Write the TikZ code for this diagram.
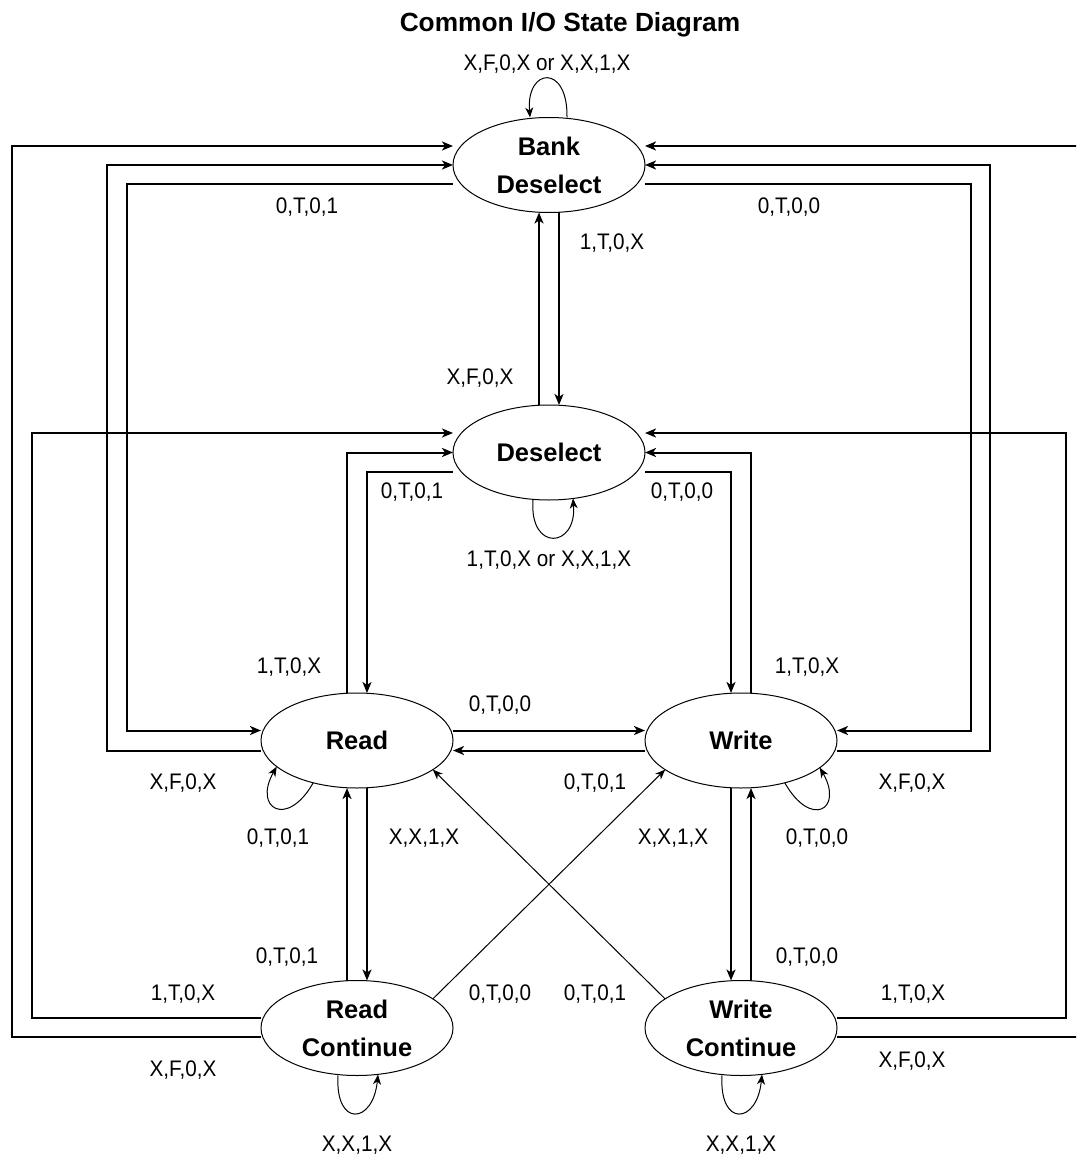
\documentclass[tikz,border=0pt]{standalone}
\usepackage{fontspec}
\setmainfont{Liberation Sans}
\newfontfamily\lblfont{Liberation Sans}[FakeStretch=0.92]
\usetikzlibrary{shapes.geometric,arrows.meta,calc}
\tikzset{
 st/.style={ellipse, draw, line width=1pt, minimum width=192pt, minimum height=95pt, inner sep=0pt, outer sep=0pt, align=center, font=\fontsize{25.5}{38}\selectfont\bfseries},
 lbl/.style={inner sep=0pt, text height=16pt, text depth=0pt, font=\lblfont\fontsize{22.5}{26}\selectfont},
 conn/.style={line width=2pt, -{Stealth[length=11pt,width=9pt,inset=3pt]}},
 thinarr/.style={line width=1pt, -{Stealth[length=10pt,width=8pt,inset=3pt]}},
}
\begin{document}
\begin{tikzpicture}[x=1pt,y=-1pt]
\fill[white] (0,0) rectangle (1076,1158);
\useasboundingbox (0,0) rectangle (1076,1158);
\clip (0,0) rectangle (1076,1158);

\node[inner sep=0pt, text height=18pt, text depth=0pt, font=\fontsize{26.3}{30}\selectfont\bfseries] (title) at (570,23) {Common I/O State Diagram};

\node[st] (bank) at (549,165) {Bank\\Deselect};
\node[st] (desel) at (549,452.5) {Deselect};
\node[st] (read) at (357,740.5) {Read};
\node[st] (write) at (741,740.5) {Write};
\node[st] (rc) at (357,1028) {Read\\Continue};
\node[st] (wc) at (741,1028) {Write\\Continue};

% left side long connectors
\draw[conn] ($(rc.west)+(0,9)$) -| (12,146) |- ($(bank.west)+(0,-19)$);
\draw[conn] ($(rc.west)+(0,-10)$) -| (32,433) |- ($(desel.west)+(0,-19.5)$);
\draw[conn] ($(read.west)+(0,10)$) -| (107,165) |- (bank.west);
\draw[conn] ($(bank.west)+(0,19)$) -| (127,730.5) |- ($(read.west)+(0,-10)$);
\draw[conn] ($(read.north)+(-10,0)$) |- (desel.west);
\draw[conn] ($(desel.west)+(0,19.5)$) -| ($(read.north)+(10,0)$);
% right side long connectors
\draw[conn] ($(wc.east)+(0,9)$) -| (1086,146) |- ($(bank.east)+(0,-19)$);
\draw[conn] ($(wc.east)+(0,-10)$) -| (1066,433) |- ($(desel.east)+(0,-19.5)$);
\draw[conn] ($(write.east)+(0,10)$) -| (990,165) |- (bank.east);
\draw[conn] ($(bank.east)+(0,19)$) -| (971,730.5) |- ($(write.east)+(0,-10)$);
\draw[conn] ($(write.north)+(10,0)$) |- (desel.east);
\draw[conn] ($(desel.east)+(0,19.5)$) -| ($(write.north)+(-10,0)$);
% straight pairs
\draw[conn] ($(desel.north)+(-10,0)$) -- ($(bank.south)+(-10,0)$);
\draw[conn] ($(bank.south)+(10,0)$) -- ($(desel.north)+(10,0)$);
\draw[conn] ($(read.east)+(0,-10)$) -- ($(write.west)+(0,-10)$);
\draw[conn] ($(write.west)+(0,10)$) -- ($(read.east)+(0,10)$);
\draw[conn] ($(read.south)+(10,0)$) -- ($(rc.north)+(10,0)$);
\draw[conn] ($(rc.north)+(-10,0)$) -- ($(read.south)+(-10,0)$);
\draw[conn] ($(write.south)+(-10,0)$) -- ($(wc.north)+(-10,0)$);
\draw[conn] ($(wc.north)+(10,0)$) -- ($(write.south)+(10,0)$);
% diagonals
\draw[thinarr] (rc.21) -- (write.201);
\draw[thinarr] (wc.159) -- (read.339);
% self loops
\draw[thinarr] ($(bank.north)+(18,0)$) .. controls +(1,-54) and +(-4,-50) .. ($(bank.north)+(-19,0)$);
\draw[thinarr] ($(desel.south)+(-16,0)$) .. controls +(-4,52) and +(4,50) .. ($(desel.south)+(24,-1.5)$);
\draw[thinarr] (read.224) .. controls +(-26,46) and +(-24,42) .. (read.198.5);
\draw[thinarr] (write.316) .. controls +(26,46) and +(24,42) .. (write.341.5);
\draw[thinarr] ($(rc.south)+(-19,0)$) .. controls +(-3,52) and +(-5,50) .. ($(rc.south)+(21,-1)$);
\draw[thinarr] ($(wc.south)+(-19,0)$) .. controls +(-3,52) and +(-5,50) .. ($(wc.south)+(21,-1)$);

% labels
\node[lbl] (l1) at (547,63) {X,F,0,X or X,X,1,X};
\node[lbl] (l2) at (307,206) {0,T,0,1};
\node[lbl] (l3) at (789,206) {0,T,0,0};
\node[lbl] (l4) at (612,241) {1,T,0,X};
\node[lbl] (l5) at (480,376) {X,F,0,X};
\node[lbl] (l6) at (412,490) {0,T,0,1};
\node[lbl] (l7) at (682,490) {0,T,0,0};
\node[lbl] (l8) at (549,558) {1,T,0,X or X,X,1,X};
\node[lbl] (l9) at (289,665) {1,T,0,X};
\node[lbl] (l10) at (807,665) {1,T,0,X};
\node[lbl] (l11) at (500,703) {0,T,0,0};
\node[lbl] (l12) at (183,781) {X,F,0,X};
\node[lbl] (l13) at (595,781) {0,T,0,1};
\node[lbl] (l14) at (912,781) {X,F,0,X};
\node[lbl] (l15) at (278,836) {0,T,0,1};
\node[lbl] (l16) at (424,836) {X,X,1,X};
\node[lbl] (l17) at (673,836) {X,X,1,X};
\node[lbl] (l18) at (817,836) {0,T,0,0};
\node[lbl] (l19) at (287,955) {0,T,0,1};
\node[lbl] (l20) at (807,955) {0,T,0,0};
\node[lbl] (l21) at (183,992) {1,T,0,X};
\node[lbl] (l22) at (500,992) {0,T,0,0};
\node[lbl] (l23) at (595,992) {0,T,0,1};
\node[lbl] (l24) at (913,992) {1,T,0,X};
\node[lbl] (l25) at (183,1068) {X,F,0,X};
\node[lbl] (l26) at (912,1059) {X,F,0,X};
\node[lbl] (l27) at (357,1143) {X,X,1,X};
\node[lbl] (l28) at (741,1143) {X,X,1,X};
\end{tikzpicture}
\end{document}
